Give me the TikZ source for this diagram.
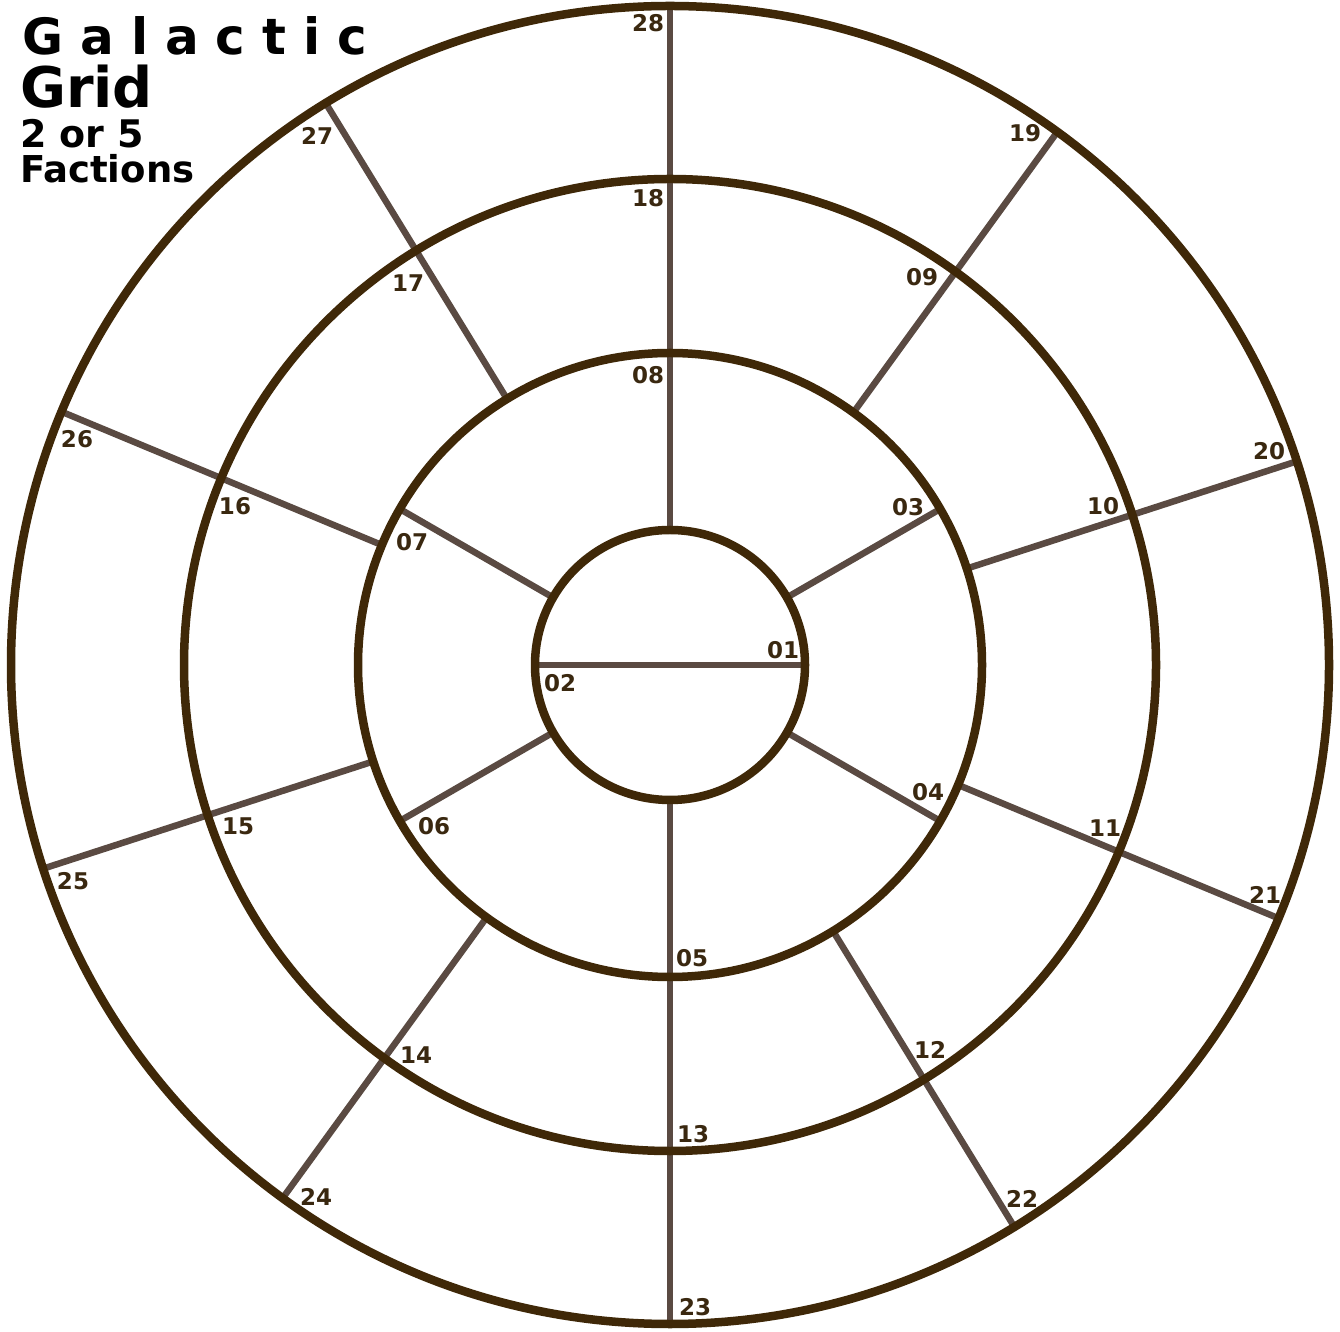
\documentclass[tikz,border=0pt]{standalone}
\usepackage{fontspec}
\setmainfont{DejaVu Sans}
\definecolor{ringc}{HTML}{3F2808}
\definecolor{spokec}{HTML}{5A4A42}
\definecolor{labc}{HTML}{3A2810}
\tikzset{
  ring/.style={draw=ringc, line width=8.5pt},
  spoke/.style={draw=spokec, line width=6.5pt},
  lab/.style={text=labc, font=\bfseries\fontsize{23}{23}\selectfont, inner sep=0pt},
  ttl/.style={text=black, anchor=base west, inner sep=0pt}
}
\begin{document}
\begin{tikzpicture}[x=1pt,y=1pt]
\useasboundingbox (0,0) rectangle (1340,1331);
\fill[white] (0,0) rectangle (1340,1331);
\coordinate (C) at (670,666);
\begin{scope}[shift={(C)}]
  % inner diameter
  \draw[spoke] (180:135) -- (0:135);
  % first ring spokes
  \foreach \a in {30,90,150,210,270,330}
    \draw[spoke] (\a:135) -- (\a:312);
  % outer spokes
  \foreach \a in {90,54,18,-22.6,-58.5,-90,-126,-162,157.4,121.5}
    \draw[spoke] (\a:312) -- (\a:659);
  % rings
  \draw[ring] (0,0) circle (135);
  \draw[ring] (0,0) circle (312);
  \draw[ring] (0,0) circle (486);
  \draw[ring] (0,0) circle (659);
\end{scope}
% labels (pixel coords, y flipped)
\foreach \t/\x/\y in {
  28/648/23, 18/648/198, 08/648/375,
  27/317/136, 17/408/283,
  19/1025/133, 09/922/277,
  26/77/439, 16/235/506, 07/412/542,
  03/908/507, 10/1103/506, 20/1269/451,
  01/783/650, 02/560/683,
  25/73/881, 15/238/826, 06/434/826,
  04/928/792, 11/1105/828, 21/1265/895,
  05/692/958, 14/416/1055, 12/930/1050,
  13/693/1134, 24/316/1197, 22/1022/1199,
  23/695/1307}
  \node[lab] (L\t) at (\x,1331-\y) {\t};
% title
\node[ttl, font=\bfseries\fontsize{50}{50}\selectfont] (t1) at (22,1331-55)
  {G\hspace{17pt}a\hspace{17pt}l\hspace{17pt}a\hspace{17pt}c\hspace{17pt}t\hspace{17pt}i\hspace{17pt}c};
\node[ttl, font=\bfseries\fontsize{56}{56}\selectfont] (t2) at (20,1331-108) {Grid};
\node[ttl, font=\bfseries\fontsize{38}{38}\selectfont] (t3) at (20,1331-148) {2 or 5};
\node[ttl, font=\bfseries\fontsize{37}{37}\selectfont] (t4) at (20,1331-183) {Factions};
\end{tikzpicture}
\end{document}
